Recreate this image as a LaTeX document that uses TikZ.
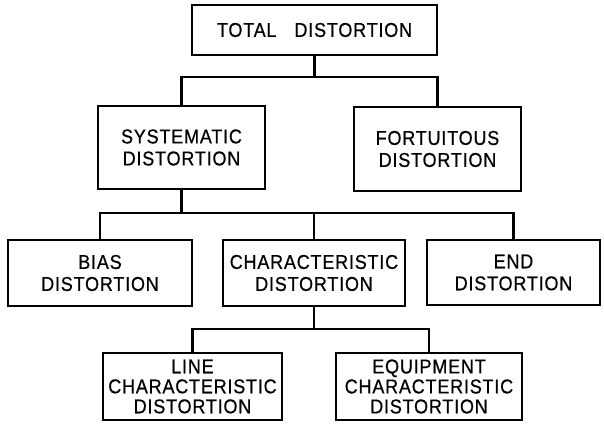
\documentclass[tikz,border=0pt]{standalone}
\usepackage{fontspec}
\setmainfont[LetterSpace=4,FakeStretch=0.9,FakeBold=0.6]{Liberation Sans}
\begin{document}
\begin{tikzpicture}[x=1pt,y=-1pt,
  box/.style={draw,line width=2pt,rectangle,inner sep=0pt,align=center,
    font=\fontsize{20}{22}\selectfont},
  tbox/.style={box,font=\fontsize{20}{20}\selectfont},
  wire/.style={line width=2.2pt,line cap=rect}]
\useasboundingbox (0,0) rectangle (604,423);
\node[box,minimum width=245pt,minimum height=50pt] (top) at (314.5,30) {TOTAL\hspace{0.9em}DISTORTION};
\node[box,minimum width=167pt,minimum height=83pt] (sys) at (181.5,147.5) {SYSTEMATIC\\DISTORTION};
\node[box,minimum width=167pt,minimum height=84pt] (fort) at (437.5,149) {FORTUITOUS\\DISTORTION};
\node[box,minimum width=184pt,minimum height=66pt] (bias) at (100,273) {BIAS\\DISTORTION};
\node[box,minimum width=182pt,minimum height=66pt] (char) at (314,273) {CHARACTERISTIC\\DISTORTION};
\node[box,minimum width=173pt,minimum height=65pt] (end) at (513.5,272.5) {END\\DISTORTION};
\node[tbox,minimum width=179pt,minimum height=67pt] (line) at (192.5,386.5) {LINE\\CHARACTERISTIC\\DISTORTION};
\node[tbox,minimum width=186pt,minimum height=67pt] (equip) at (429,386.5) {EQUIPMENT\\CHARACTERISTIC\\DISTORTION};
\coordinate (j1) at (312,77);
\coordinate (j2) at (182,213);
\coordinate (j3) at (312,329);
\draw[wire] (top.south) -- (top.south |- j1);
\draw[wire] (sys.north) |- (j1) -| (fort.north);
\draw[wire] (sys.south) -- (sys.south |- j2);
\draw[wire] (bias.north) |- (j2) -| (end.north);
\draw[wire] (char.north) -- (char.north |- j2);
\draw[wire] (char.south) -- (char.south |- j3);
\draw[wire] (line.north) |- (j3) -| (equip.north);
\end{tikzpicture}
\end{document}
